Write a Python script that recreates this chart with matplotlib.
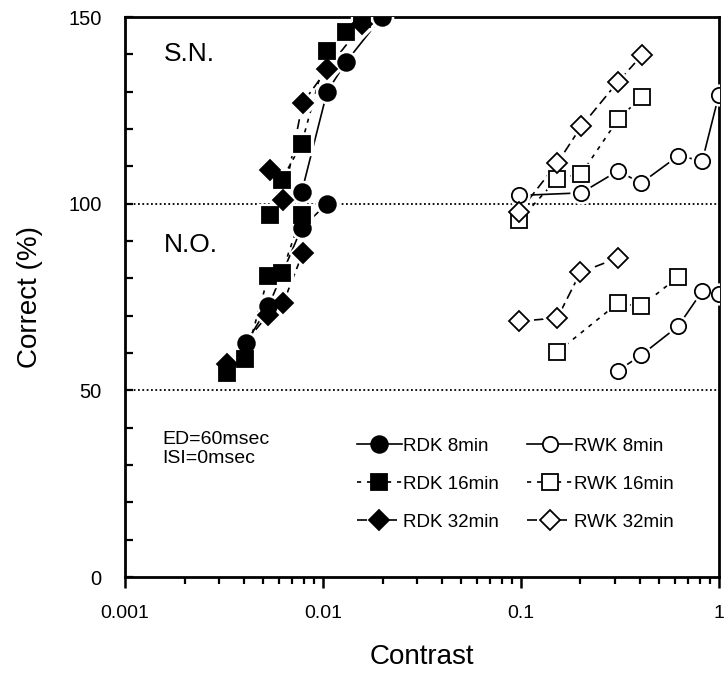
import matplotlib
matplotlib.use("Agg")
import matplotlib.pyplot as plt
from matplotlib.lines import Line2D
from matplotlib.ticker import FixedLocator, LogLocator, MultipleLocator, NullFormatter

plt.rcParams["font.family"] = ["Liberation Sans", "DejaVu Sans"]

# ---- RDK (filled symbols) ----
# S.N. condition: drawn on the upper band (100-150)
rdk8_sn_x = [0.0078, 0.0105, 0.0131, 0.0198]
rdk8_sn_y = [103, 130, 138, 150]
rdk16_sn_x = [0.0054, 0.0062, 0.0078, 0.0105, 0.0131, 0.0158]
rdk16_sn_y = [97, 106.4, 116, 141, 146, 149.6]
rdk32_sn_x = [0.0054, 0.0063, 0.0079, 0.0105, 0.0158]
rdk32_sn_y = [109, 101, 127, 136, 148]
# N.O. condition: drawn on the lower band (50-100)
rdk8_no_x = [0.0041, 0.0053, 0.0078, 0.0105]
rdk8_no_y = [62.8, 72.5, 93.5, 100]
rdk16_no_x = [0.00327, 0.00404, 0.0053, 0.0062, 0.0078]
rdk16_no_y = [54.7, 58.3, 80.6, 81.5, 97]
rdk32_no_x = [0.00327, 0.0053, 0.0063, 0.0079]
rdk32_no_y = [57, 70.3, 73.4, 86.7]

# ---- RWK (open symbols) ----
rwk8_sn_x = [0.098, 0.202, 0.31, 0.405, 0.624, 0.826, 1.0]
rwk8_sn_y = [102.2, 102.9, 108.8, 105.5, 112.8, 111.5, 129]
rwk16_sn_x = [0.098, 0.153, 0.202, 0.31, 0.41]
rwk16_sn_y = [95.5, 106.7, 108, 122.6, 128.7]
rwk32_sn_x = [0.098, 0.153, 0.202, 0.31, 0.41]
rwk32_sn_y = [97.8, 110.9, 120.7, 132.7, 139.8]
rwk8_no_x = [0.31, 0.405, 0.624, 0.826, 1.0]
rwk8_no_y = [55.3, 59.4, 67.2, 76.6, 75.7]
rwk16_no_x = [0.153, 0.31, 0.405, 0.624]
rwk16_no_y = [60.3, 73.4, 72.5, 80.4]
rwk32_no_x = [0.098, 0.153, 0.2, 0.31]
rwk32_no_y = [68.5, 69.4, 81.6, 85.5]

legend_labels = ["RDK 8min", "RDK 16min", "RDK 32min", "RWK 8min", "RWK 16min", "RWK 32min"]
x_tick_vals = [0.001, 0.01, 0.1, 1]
x_tick_labels = ["0.001", "0.01", "0.1", "1"]
y_tick_vals = [0, 50, 100, 150]

LW = 1.2
styles = {
    "8": dict(ls="-"),
    "16": dict(ls=(0, (2.5, 3.5))),
    "32": dict(ls=(0, (6, 3))),
}
markers = {"8": ("o", 12.0, 11.0), "16": ("s", 11.5, 11.0), "32": ("D", 10.0, 10.2)}

fig = plt.figure(figsize=(7.26, 6.81), dpi=100)
ax = fig.add_axes([0.1722, 0.1527, 0.8178, 0.8223])


def draw(x, y, dur, filled):
    m, ms_f, ms_o = markers[dur]
    ms = ms_f if filled else ms_o
    ax.plot(x, y, color="black", lw=LW, zorder=2, **styles[dur])
    # white halo so connecting lines stop short of the symbols
    ax.plot(x, y, ls="none", marker=m, ms=ms + 4, mfc="white", mec="white", zorder=3)
    ax.plot(x, y, ls="none", marker=m, ms=ms,
            mfc="black" if filled else "white", mec="black", mew=1.3, zorder=4)


draw(rdk8_sn_x, rdk8_sn_y, "8", True)
draw(rdk16_sn_x, rdk16_sn_y, "16", True)
draw(rdk32_sn_x, rdk32_sn_y, "32", True)
draw(rdk8_no_x, rdk8_no_y, "8", True)
draw(rdk16_no_x, rdk16_no_y, "16", True)
draw(rdk32_no_x, rdk32_no_y, "32", True)
draw(rwk8_sn_x, rwk8_sn_y, "8", False)
draw(rwk16_sn_x, rwk16_sn_y, "16", False)
draw(rwk32_sn_x, rwk32_sn_y, "32", False)
draw(rwk8_no_x, rwk8_no_y, "8", False)
draw(rwk16_no_x, rwk16_no_y, "16", False)
draw(rwk32_no_x, rwk32_no_y, "32", False)

# chance-level reference lines for the two bands
for yref in (100, 50):
    ax.axhline(yref, color="black", lw=1.3, ls=(0, (1, 1.4)), zorder=1)

ax.set_xscale("log")
ax.set_xlim(0.001, 1)
ax.set_ylim(0, 150)

ax.xaxis.set_major_locator(FixedLocator(x_tick_vals))
ax.set_xticklabels(x_tick_labels)
ax.xaxis.set_minor_locator(LogLocator(base=10, subs=range(2, 10)))
ax.xaxis.set_minor_formatter(NullFormatter())
ax.yaxis.set_major_locator(FixedLocator(y_tick_vals))
ax.yaxis.set_minor_locator(MultipleLocator(10))

ax.tick_params(axis="x", which="major", direction="out", length=8, width=1.8,
               labelsize=14, pad=12)
ax.tick_params(axis="x", which="minor", direction="out", length=5, width=1.6)
ax.tick_params(axis="y", which="both", direction="in", length=6, width=1.6,
               labelsize=14.5, pad=17)

for s in ax.spines.values():
    s.set_linewidth(2.0)

ax.set_xlabel("Contrast", fontsize=20, labelpad=16)
ax.set_ylabel("Correct (%)", fontsize=20, labelpad=18)

ax.text(0.00157, 140, "S.N.", fontsize=19, va="center", ha="left")
ax.text(0.00157, 89, "N.O.", fontsize=19, va="center", ha="left")
ax.text(0.00155, 39.0, "ED=60msec\nISI=0msec", fontsize=14, va="top", ha="left",
        linespacing=1.1)

handles = []
for lab in legend_labels:
    dur = lab.split()[1].replace("min", "")
    m, ms_f, ms_o = markers[dur]
    filled = lab.startswith("RDK")
    handles.append(Line2D([], [], color="black", lw=LW, marker=m,
                          ms=ms_f if filled else ms_o,
                          mfc="black" if filled else "white", mec="black", mew=1.3,
                          **styles[dur]))
ax.legend(handles, legend_labels, ncol=2, loc="upper left",
          bbox_to_anchor=(0.39, 0.249), frameon=False, fontsize=13.5,
          handlelength=2.4, handletextpad=0.1, columnspacing=1.5,
          labelspacing=1.12, borderpad=0, borderaxespad=0)

fig.savefig("out.png", dpi=100)
